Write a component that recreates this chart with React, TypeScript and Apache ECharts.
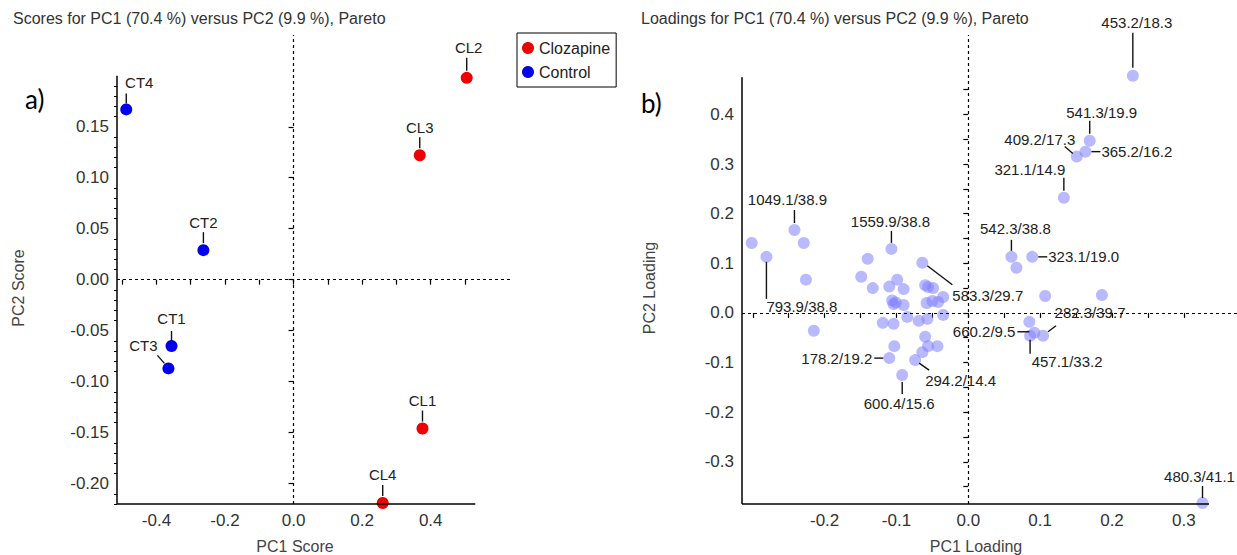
import React, { useEffect, useRef } from "react";
import * as echarts from "echarts";

// ---------- DATA ----------
const SCORE_NAMES = ["CT1", "CT2", "CT3", "CT4", "CL1", "CL2", "CL3", "CL4"];
const SCORE_PC1 = [-0.356, -0.263, -0.365, -0.488, 0.376, 0.505, 0.368, 0.26];
const SCORE_PC2 = [-0.065, 0.029, -0.087, 0.167, -0.146, 0.198, 0.122, -0.219];
const SCORE_GROUP = ["Control", "Control", "Control", "Control", "Clozapine", "Clozapine", "Clozapine", "Clozapine"];
const GROUPS = ["Clozapine", "Control"];

const LOAD_LABELS = [
  "453.2/18.3", "541.3/19.9", "409.2/17.3", "365.2/16.2", "321.1/14.9", "542.3/38.8",
  "323.1/19.0", "583.3/29.7", "660.2/9.5", "457.1/33.2", "282.3/39.7", "178.2/19.2",
  "294.2/14.4", "600.4/15.6", "480.3/41.1", "1049.1/38.9", "1559.9/38.8", "793.9/38.8",
];
const LOAD_LABEL_PC1 = [0.229, 0.169, 0.151, 0.163, 0.133, 0.06, 0.089, -0.064, 0.092, 0.086, 0.104, -0.11, -0.074, -0.092, 0.326, -0.242, -0.107, -0.281];
const LOAD_LABEL_PC2 = [0.478, 0.347, 0.315, 0.325, 0.232, 0.113, 0.113, 0.101, -0.04, -0.046, -0.046, -0.091, -0.095, -0.125, -0.383, 0.167, 0.129, 0.113];

const LOAD_OTHER_PC1 = [
  -0.3015, -0.229, -0.226, -0.215, -0.14, -0.149, -0.133, -0.099, -0.11, -0.09, -0.106, -0.101,
  -0.104, -0.09, -0.119, -0.104, -0.085, -0.069, -0.057, -0.06, -0.056, -0.049, -0.058, -0.05,
  -0.042, -0.035, -0.035, -0.103, -0.06, -0.056, -0.043, -0.064, 0.067, 0.107, 0.186, 0.085,
];
const LOAD_OTHER_PC2 = [
  0.141, 0.141, 0.067, -0.036, 0.109, 0.073, 0.05, 0.067, 0.053, 0.048, 0.025, 0.021,
  0.018, 0.016, -0.02, -0.022, -0.008, -0.016, -0.012, 0.056, 0.052, 0.05, 0.02, 0.024,
  0.022, 0.032, -0.004, -0.067, -0.048, -0.067, -0.067, -0.079, 0.091, 0.034, 0.036, -0.018,
];

// tick values
const SCORE_X_TICKS = [-0.5, -0.4, -0.3, -0.2, -0.1, 0, 0.1, 0.2, 0.3, 0.4, 0.5];
const SCORE_X_LABELS = [-0.4, -0.2, 0, 0.2, 0.4];
const SCORE_Y_LABELS = [-0.2, -0.15, -0.1, -0.05, 0, 0.05, 0.1, 0.15];
const LOAD_X_TICKS = [-0.3, -0.25, -0.2, -0.15, -0.1, -0.05, 0, 0.05, 0.1, 0.15, 0.2, 0.25, 0.3];
const LOAD_X_LABELS = [-0.2, -0.1, 0, 0.1, 0.2, 0.3];
const LOAD_Y_TICKS = [-0.35, -0.3, -0.25, -0.2, -0.15, -0.1, -0.05, 0, 0.05, 0.1, 0.15, 0.2, 0.25, 0.3, 0.35, 0.4, 0.45];
const LOAD_Y_LABELS = [-0.3, -0.2, -0.1, 0, 0.1, 0.2, 0.3, 0.4];
const SCORE_Y_MINOR: number[] = [];
for (let k = -22; k <= 20; k++) if (k % 5 !== 0) SCORE_Y_MINOR.push(k / 100);

// axis extents
const S_X = { min: -0.515, max: 0.64, lineMax: 0.53 };
const S_Y = { min: -0.22, max: 0.24, lineMax: 0.2 };
const L_X = { min: -0.315, max: 0.374, lineMax: 0.335 };
const L_Y = { min: -0.385, max: 0.56, lineMax: 0.475 };

// ---------- LABEL LAYOUT (pixel offsets, styling only) ----------
type Lay = { t: [number, number]; l: [number, number, number, number]; a?: string };
const UP: Lay = { t: [0, -28], l: [0, -7, 0, -18] };
const SCORE_LAYOUT: Record<string, Lay> = {
  CT1: { t: [0, -27], l: [0, -5, 0, -15] },
  CT2: UP,
  CT3: { t: [-25, -23], l: [-11, -13, -4, -5] },
  CT4: { t: [13, -27], l: [0, -6, 0, -16] },
  CL1: UP,
  CL2: { t: [2, -30], l: [0, -7, 0, -20] },
  CL3: UP,
  CL4: UP,
};
const LOAD_LAYOUT: Record<string, Lay> = {
  "453.2/18.3": { t: [4, -53], l: [0, -43, 0, -8] },
  "541.3/19.9": { t: [12, -28], l: [0, -20, 0, -7] },
  "409.2/17.3": { t: [-37, -17], l: [-12, -10, -4, -3] },
  "365.2/16.2": { t: [16, 0], l: [6, 0, 15, 0], a: "left" },
  "321.1/14.9": { t: [-34, -28], l: [0, -20, 0, -7] },
  "542.3/38.8": { t: [4, -28], l: [0, -17, 0, -6] },
  "323.1/19.0": { t: [16, 0], l: [6, 0, 15, 0], a: "left" },
  "583.3/29.7": { t: [30, 33], l: [5, 3, 30, 22], a: "left" },
  "660.2/9.5": { t: [-19, -1], l: [-17, -1, -5, -1], a: "right" },
  "457.1/33.2": { t: [37, 26], l: [0, 4, 0, 18] },
  "282.3/39.7": { t: [47, -23], l: [5, -4, 13, -10] },
  "178.2/19.2": { t: [-17, 0], l: [-15, 0, -6, 0], a: "right" },
  "294.2/14.4": { t: [10, 20], l: [4, 3, 14, 10], a: "left" },
  "600.4/15.6": { t: [-3, 29], l: [0, 7, 0, 19] },
  "480.3/41.1": { t: [-3, -27], l: [0, -17, 0, -5] },
  "1049.1/38.9": { t: [-7, -31], l: [0, -20, 0, -7] },
  "1559.9/38.8": { t: [-1, -27], l: [0, -18, 0, -6] },
  "793.9/38.8": { t: [0, 50], l: [0, 5, 0, 42], a: "left" },
};

const FONT = '"Liberation Sans", Arial, sans-serif';
const COLORS: Record<string, string> = { Clozapine: "#ee0000", Control: "#0000ee" };

function labelRenderer(names: string[], layout: Record<string, Lay>) {
  return (params: any, api: any) => {
    const i = api.value(2);
    const name = names[i];
    const lay = layout[name];
    const p = api.coord([api.value(0), api.value(1)]);
    return {
      type: "group",
      children: [
        {
          type: "line",
          shape: { x1: p[0] + lay.l[0], y1: p[1] + lay.l[1], x2: p[0] + lay.l[2], y2: p[1] + lay.l[3] },
          style: { stroke: "#111", lineWidth: 1.4 },
        },
        {
          type: "text",
          x: p[0] + lay.t[0],
          y: p[1] + lay.t[1],
          style: {
            text: name,
            fill: "#222",
            fontSize: 15,
            fontFamily: FONT,
            align: lay.a || "center",
            verticalAlign: "middle",
          },
        },
      ],
    };
  };
}

function frameLines(X: any, Y: any) {
  const solid = { type: "solid", color: "#000", width: 1.5 };
  const dash = { type: [3, 3], color: "#000", width: 1.2 };
  return {
    silent: true,
    symbol: "none",
    label: { show: false },
    animation: false,
    data: [
      { xAxis: 0, lineStyle: dash },
      { yAxis: 0, lineStyle: dash },
      [
        { coord: [X.min, Y.min], lineStyle: solid },
        { coord: [X.lineMax, Y.min] },
      ],
      [
        { coord: [X.min, Y.min], lineStyle: solid },
        { coord: [X.min, Y.lineMax] },
      ],
    ],
  };
}

const tickLabelStyle = (digits: number, values: number[]) => ({
  customValues: values,
  formatter: (v: number) => v.toFixed(digits),
  fontSize: 17,
  color: "#333",
  fontFamily: FONT,
  margin: 8,
});

export default function App() {
  const ref = useRef<HTMLDivElement>(null);
  useEffect(() => {
    if (!ref.current) return;
    const chart = echarts.init(ref.current, undefined, { renderer: "svg" });

    const scoreSeries = GROUPS.map((g) => ({
      name: g,
      type: "scatter",
      xAxisIndex: 0,
      yAxisIndex: 0,
      symbolSize: 12,
      itemStyle: { color: COLORS[g], opacity: 1 },
      data: SCORE_NAMES.map((n, i) => ({ i, n })).filter((d) => SCORE_GROUP[d.i] === g).map((d) => [SCORE_PC1[d.i], SCORE_PC2[d.i]]),
      z: 3,
    }));

    const loadData = [
      ...LOAD_OTHER_PC1.map((x, i) => [x, LOAD_OTHER_PC2[i]]),
      ...LOAD_LABEL_PC1.map((x, i) => [x, LOAD_LABEL_PC2[i]]),
    ];

    const axisBase = {
      type: "value",
      axisLine: { show: false },
      splitLine: { show: false },
    };

    chart.setOption({
      animation: false,
      backgroundColor: "#fff",
      title: [
        {
          text: "Scores for PC1 (70.4 %) versus PC2 (9.9 %), Pareto",
          left: 8,
          top: 5,
          textStyle: { fontSize: 16, fontWeight: "normal", color: "#333", fontFamily: FONT },
        },
        {
          text: "Loadings for PC1 (70.4 %) versus PC2 (9.9 %), Pareto",
          left: 636,
          top: 5,
          textStyle: { fontSize: 16, fontWeight: "normal", color: "#333", fontFamily: FONT },
        },
      ],
      legend: {
        data: GROUPS,
        orient: "vertical",
        left: 517,
        top: 33,
        icon: "circle",
        itemWidth: 12,
        itemHeight: 12,
        itemGap: 8,
        padding: [7, 6, 7, 5],
        borderColor: "#000",
        borderWidth: 1,
        textStyle: { fontSize: 16, color: "#222", fontFamily: FONT },
      },
      grid: [
        { left: 117, top: 35, width: 396, height: 469 },
        { left: 742, top: 35, width: 495, height: 469 },
      ],
      xAxis: [
        {
          ...axisBase,
          gridIndex: 0,
          min: S_X.min,
          max: S_X.max,
          axisTick: { customValues: SCORE_X_TICKS, length: 5, lineStyle: { color: "#000", width: 1.2 } },
          axisLabel: tickLabelStyle(1, SCORE_X_LABELS),
        },
        {
          ...axisBase,
          gridIndex: 1,
          min: L_X.min,
          max: L_X.max,
          axisTick: { customValues: LOAD_X_TICKS, length: 5, lineStyle: { color: "#000", width: 1.2 } },
          axisLabel: tickLabelStyle(1, LOAD_X_LABELS),
        },
      ],
      yAxis: [
        {
          ...axisBase,
          gridIndex: 0,
          min: S_Y.min,
          max: S_Y.max,
          axisTick: { customValues: SCORE_Y_LABELS, length: 5, lineStyle: { color: "#000", width: 1.2 } },
          axisLabel: tickLabelStyle(2, SCORE_Y_LABELS),
        },
        {
          ...axisBase,
          gridIndex: 1,
          min: L_Y.min,
          max: L_Y.max,
          axisTick: { customValues: LOAD_Y_TICKS, length: 5, lineStyle: { color: "#000", width: 1.2 } },
          axisLabel: tickLabelStyle(1, LOAD_Y_LABELS),
        },
        {
          ...axisBase,
          gridIndex: 0,
          position: "left",
          min: S_Y.min,
          max: S_Y.max,
          axisTick: { customValues: SCORE_Y_MINOR, length: 3, lineStyle: { color: "#000", width: 1 } },
          axisLabel: { show: false },
        },
      ],
      graphic: [
        { type: "text", left: 25, top: 86, style: { text: "a)", fontSize: 26, fontFamily: "Lato, sans-serif", fill: "#000" } },
        { type: "text", left: 641, top: 90, style: { text: "b)", fontSize: 26, fontFamily: "Lato, sans-serif", fill: "#000" } },
        {
          type: "text", x: 295, y: 546,
          style: { text: "PC1 Score", fontSize: 16, fontFamily: FONT, fill: "#444", align: "center", verticalAlign: "middle" },
        },
        {
          type: "text", x: 18, y: 288, rotation: Math.PI / 2,
          style: { text: "PC2 Score", fontSize: 16, fontFamily: FONT, fill: "#444", align: "center", verticalAlign: "middle" },
        },
        {
          type: "text", x: 976, y: 546,
          style: { text: "PC1 Loading", fontSize: 16, fontFamily: FONT, fill: "#444", align: "center", verticalAlign: "middle" },
        },
        {
          type: "text", x: 649, y: 288, rotation: Math.PI / 2,
          style: { text: "PC2 Loading", fontSize: 16, fontFamily: FONT, fill: "#444", align: "center", verticalAlign: "middle" },
        },
      ],
      series: [
        {
          type: "line",
          xAxisIndex: 0,
          yAxisIndex: 0,
          data: [],
          markLine: frameLines(S_X, S_Y),
        },
        ...scoreSeries,
        {
          type: "custom",
          xAxisIndex: 0,
          yAxisIndex: 0,
          clip: false,
          silent: true,
          z: 4,
          renderItem: labelRenderer(SCORE_NAMES, SCORE_LAYOUT),
          data: SCORE_NAMES.map((_, i) => [SCORE_PC1[i], SCORE_PC2[i], i]),
        },
        {
          type: "line",
          xAxisIndex: 1,
          yAxisIndex: 1,
          data: [],
          markLine: frameLines(L_X, L_Y),
        },
        {
          name: "Loadings",
          type: "scatter",
          xAxisIndex: 1,
          yAxisIndex: 1,
          symbolSize: 12,
          itemStyle: { color: "#7f7fff", opacity: 0.55 },
          data: loadData,
          z: 3,
        },
        {
          type: "custom",
          xAxisIndex: 1,
          yAxisIndex: 1,
          clip: false,
          silent: true,
          z: 4,
          renderItem: labelRenderer(LOAD_LABELS, LOAD_LAYOUT),
          data: LOAD_LABELS.map((_, i) => [LOAD_LABEL_PC1[i], LOAD_LABEL_PC2[i], i]),
        },
      ],
    });
    return () => chart.dispose();
  }, []);
  return <div ref={ref} style={{ position: "absolute", left: 0, top: 0, width: 1237, height: 555, background: "#fff" }} />;
}
